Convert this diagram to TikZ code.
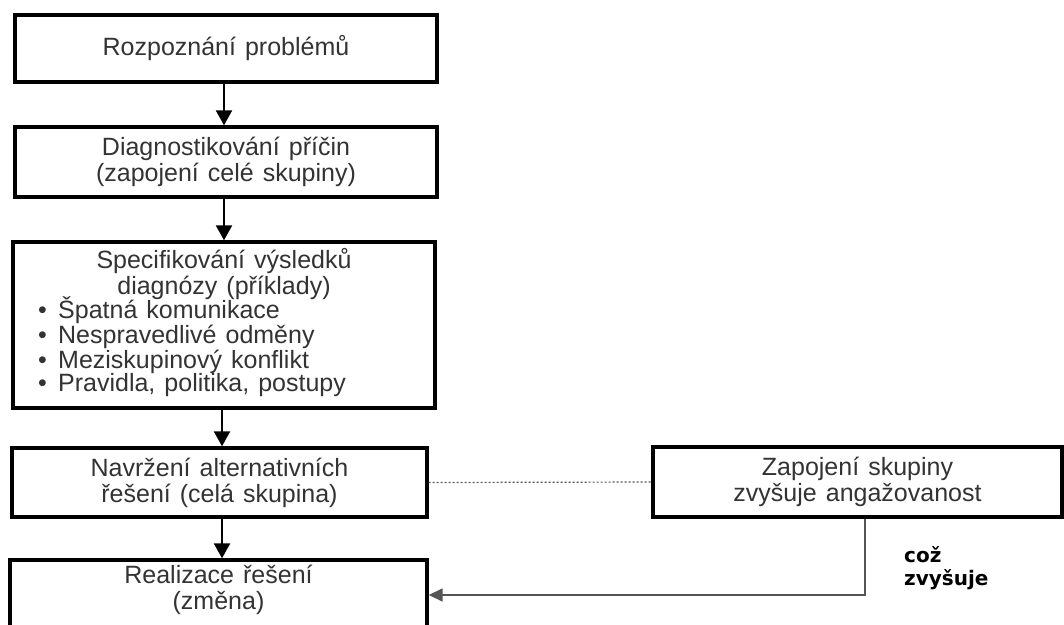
\documentclass[tikz,border=0pt]{standalone}
\usepackage{fontspec}
\setmainfont[WordSpace=1.3]{Liberation Sans}
\newfontfamily\notefont{DejaVu Sans}
\usetikzlibrary{arrows.meta}
\definecolor{ink}{HTML}{333333}
\definecolor{thin}{HTML}{555555}
\begin{document}
\begin{tikzpicture}[x=1pt,y=-1pt,
  box/.style={draw=black, line width=3.4pt, inner sep=0pt, align=center,
              text=ink, font=\fontsize{25}{26}\selectfont},
  label/.style={inner sep=0pt, text=ink, font=\fontsize{25}{26}\selectfont},
  flow/.style={line width=2.4pt, -{Triangle[length=15pt,width=16pt]}},
  link/.style={line width=1.2pt, dash pattern=on 2pt off 2pt, draw=thin},
  back/.style={line width=1.6pt, draw=thin, -{Triangle[length=14pt,width=13pt]}}]
\useasboundingbox (0,0) rectangle (1064,624);
\clip (0,0) rectangle (1064,624);
\fill[white] (0,0) rectangle (1064,624);

% main sequence of steps
\node[box, minimum width=422pt, minimum height=67pt] (b1) at (226,48.5)
  {Rozpoznání problémů};
\node[box, minimum width=422pt, minimum height=70pt] (b2) at (226,162)
  {Diagnostikování příčin\\(zapojení celé skupiny)};
\node[box, minimum width=422pt, minimum height=166pt] (b3) at (224,325) {};
\node[label, align=center] (b3t) at (224,274)
  {Specifikování výsledků\\diagnózy (příklady)};
\node[label, align=left, anchor=west,
      font=\fontsize{25}{23.5}\selectfont] (b3l) at (38,347)
  {\makebox[20pt][l]{•}Špatná komunikace\\
   \makebox[20pt][l]{•}Nespravedlivé odměny\\
   \makebox[20pt][l]{•}Meziskupinový konflikt\\
   \makebox[20pt][l]{•}Pravidla, politika, postupy};
\node[box, minimum width=415pt, minimum height=69pt] (b4) at (219.5,482.5)
  {Navržení alternativních\\řešení (celá skupina)};
\node[box, minimum width=417pt, minimum height=70pt] (b5) at (218.5,595) {};
\node[label, align=center] (b5t) at (218.5,590)
  {Realizace řešení\\(změna)};

% side box
\node[box, minimum width=409pt, minimum height=70pt] (b6) at (857.5,482)
  {Zapojení skupiny\\zvyšuje angažovanost};

% arrows between steps
\draw[flow] ([xshift=-2pt]b1.south) -- ([xshift=-2pt]b1.south |- b2.north);
\draw[flow] ([xshift=-2pt]b2.south) -- ([xshift=-2pt]b2.south |- b3.north);
\draw[flow] ([xshift=-2pt]b3.south) -- ([xshift=-2pt]b3.south |- b4.north);
\draw[flow] ([xshift=2.5pt]b4.south) -- ([xshift=2.5pt]b4.south |- b5.north);

% link to the side box and its feedback
\draw[link] (b4.east) -- (b6.west);
\draw[back] ([xshift=7.5pt]b6.south) |- (b5.east);

\node[inner sep=0pt, anchor=west, align=left,
      font=\notefont\bfseries\fontsize{20}{23}\selectfont] (note) at (904,568)
  {což\\zvyšuje};
\end{tikzpicture}
\end{document}
